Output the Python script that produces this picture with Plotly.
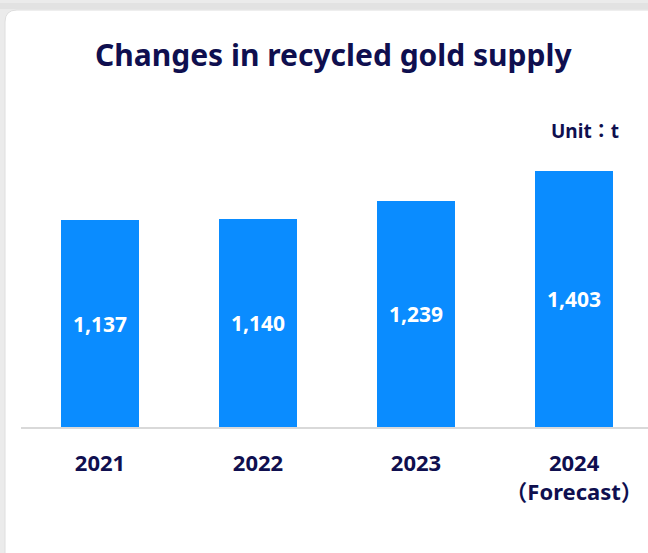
import plotly.graph_objects as go

years = ["2021", "2022", "2023", "2024"]
tick_labels = ["2021", "2022", "2023", "2024<br>（Forecast）"]
supply = [1137, 1140, 1239, 1403]
value_labels = ["1,137", "1,140", "1,239", "1,403"]

NAVY = "#0f0f4f"
BLUE = "#0a8cff"
FONT = "Noto Sans, Noto Sans CJK JP, sans-serif"

W, H = 648, 553
L, R, T, B = 21, 0, 100, 126
pw, ph = W - L - R, H - T - B

def px(x):
    return (x - L) / pw

def py(y):
    return (H - B - y) / ph

fig = go.Figure()
fig.add_trace(go.Bar(
    x=years, y=supply, text=value_labels,
    marker=dict(color=BLUE, line=dict(width=0)),
    width=0.49,
    textposition="inside", insidetextanchor="middle",
    textfont=dict(color="white", size=21, family=FONT, weight="bold"),
    hoverinfo="skip",
))

shapes = [
    dict(type="rect", xref="paper", yref="paper", x0=px(0), x1=px(W), y0=py(0), y1=py(H),
         fillcolor="#ebebeb", line=dict(width=0), layer="below"),
    dict(type="rect", xref="paper", yref="paper", x0=px(0), x1=px(W), y0=py(3), y1=py(9),
         fillcolor="#e2e2e2", line=dict(width=0), layer="below"),
    dict(type="path", xref="paper", yref="paper",
         path=("M {a} {b} L {c} {b} L {c} {d} L {e} {d} L {e} {f} Q {e} {g} {h} {g} L {a} {g} Z").format(
             a=px(W + 5), b=py(H + 5), c=px(5), d=py(H + 5), e=px(5), f=py(22), g=py(10), h=px(17)),
         fillcolor="white", line=dict(color="#dedede", width=1), layer="below"),
]

fig.update_layout(
    width=W, height=H,
    margin=dict(l=L, r=R, t=T, b=B),
    paper_bgcolor="white", plot_bgcolor="rgba(0,0,0,0)",
    showlegend=False,
    shapes=shapes,
    bargap=0,
    xaxis=dict(
        type="category", range=[-0.5, 3.468],
        tickmode="array", tickvals=years, ticktext=tick_labels,
        tickfont=dict(color=NAVY, size=22, family=FONT, weight="bold"),
        showline=True, linecolor="#d9d9d9", linewidth=2,
        showgrid=False, ticks="", ticklabelstandoff=16, fixedrange=True,
    ),
    yaxis=dict(range=[0, ph / 0.1824], visible=False, showgrid=False, fixedrange=True),
    annotations=[
        dict(text="Changes in recycled gold supply", xref="paper", yref="paper",
             x=px(333), y=py(55), xanchor="center", yanchor="middle", showarrow=False,
             font=dict(color=NAVY, size=30, family=FONT, weight="bold")),
        dict(text="Unit：t", xref="paper", yref="paper",
             x=px(585), y=py(131), xanchor="center", yanchor="middle", showarrow=False,
             font=dict(color=NAVY, size=19, family=FONT, weight="bold")),
    ],
)

fig.write_html("out.html")
